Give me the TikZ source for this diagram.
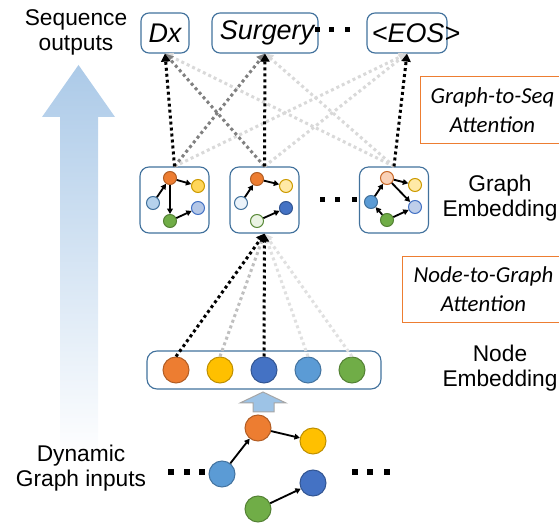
\documentclass[tikz,border=0pt]{standalone}
\usepackage{fontspec}
\setmainfont{Liberation Sans}
\newfontfamily\calibri{Carlito}
\usetikzlibrary{arrows.meta}

\definecolor{orng}{HTML}{ED7D31}
\definecolor{gold}{HTML}{FFC000}
\definecolor{dblue}{HTML}{4472C4}
\definecolor{lblue}{HTML}{5B9BD5}
\definecolor{grn}{HTML}{70AD47}
\definecolor{boxblue}{HTML}{41719C}
\definecolor{upblue}{HTML}{9DC3E6}
\definecolor{fadeblue}{RGB}{172,202,232}

\begin{document}
\begin{tikzpicture}[x=0.3mm,y=-0.3mm,
    lbl/.style={font=\fontsize{19.4}{21.3}\selectfont, align=center},
    outtxt/.style={font=\fontsize{23}{26}\selectfont\itshape},
    outbox/.style={draw=boxblue, line width=0.35mm, rounded corners=2.4mm, minimum height=12mm},
    gbox/.style={draw=boxblue, line width=0.35mm, rounded corners=2.7mm, minimum width=20.7mm, minimum height=19.8mm},
    attbox/.style={draw=orng, line width=0.3mm, align=center, minimum height=20mm,
        font=\calibri\itshape\fontsize{19.5}{24.5}\selectfont},
    gnode/.style 2 args={circle, minimum size=3.9mm, inner sep=0, line width=0.3mm, fill=#1, draw=#2},
    bnode/.style={circle, minimum size=7.8mm, inner sep=0, line width=0.3mm, fill=#1, draw=#1!75!black},
    sarrow/.style={-{Triangle[width=1.7mm,length=1.6mm]}, line width=0.55mm},
    att/.style={line width=0.9mm, dash pattern=on 0.9mm off 0.9mm, -{Triangle[width=2.7mm,length=2.4mm]}},
    sq/.style={fill=black}]
    \useasboundingbox (0,0) rectangle (559,523);

    % big fading arrow on the left
    \shade[top color=fadeblue, bottom color=white]
        (42,117) -- (78.5,65) -- (115,117) -- (98,117) -- (98,458) -- (60,458) -- (60,117) -- cycle;
    \node[lbl] (seqlbl) at (76,32) {Sequence\\outputs};
    \node[lbl] (dynlbl) at (81,468) {Dynamic\\Graph inputs};

    % sequence outputs
    \node[outbox, minimum width=14.4mm] (dx) at (165,33) {};
    \node[outbox, minimum width=31.8mm] (surg) at (265,33) {};
    \node[outbox, minimum width=24mm] (eos) at (407,33) {};
    \node[outtxt] (dxtxt) at (165,33) {Dx};
    \node[outtxt] (surgtxt) at (267,33) {Surgery};
    \node[outtxt] (eostxt) at (416,33) {<EOS>};
    \foreach \x in {317,331,347}
        \fill[sq] (\x-2.5,27.5) rectangle +(5,5);

    % graph embeddings
    \node[gbox] (g1) at (174.5,200) {};
    \node[gbox] (g2) at (264.5,200) {};
    \node[gbox] (g3) at (394,200) {};
    \foreach \x in {322,337,354}
        \fill[sq] (\x-2.5,197.5) rectangle +(5,5);
    \node[lbl] (gelbl) at (500,198) {Graph\\Embedding};

    % graph 1
    \node[gnode={orng}{orng!75!black}] (g1o) at (170,178) {};
    \node[gnode={gold!65!white}{gold!80!black}] (g1y) at (198,186) {};
    \node[gnode={lblue!45!white}{boxblue}] (g1b) at (153,203) {};
    \node[gnode={dblue!40!white}{dblue}] (g1s) at (198,208) {};
    \node[gnode={grn}{grn!75!black}] (g1g) at (170,221) {};
    \draw[sarrow] (g1b) -- (g1o);
    \draw[sarrow] (g1o) -- (g1y);
    \draw[sarrow] (g1o) -- (g1g);
    \draw[sarrow] (g1g) -- (g1s);

    % graph 2
    \node[gnode={orng}{orng!75!black}] (g2o) at (257,179) {};
    \node[gnode={gold!35!white}{gold!80!black}] (g2y) at (286,186) {};
    \node[gnode={lblue!12!white}{boxblue}] (g2b) at (241,203) {};
    \node[gnode={dblue}{dblue!75!black}] (g2s) at (286,208) {};
    \node[gnode={grn!15!white}{grn!80!black}] (g2g) at (257,221) {};
    \draw[sarrow] (g2b) -- (g2o);
    \draw[sarrow] (g2o) -- (g2y);
    \draw[sarrow] (g2g) -- (g2s);

    % graph 3
    \node[gnode={orng!35!white}{orng!85!black}] (g3o) at (387,178) {};
    \node[gnode={gold!35!white}{gold!80!black}] (g3y) at (415,185) {};
    \node[gnode={lblue}{boxblue}] (g3b) at (371,202) {};
    \node[gnode={dblue!35!white}{dblue}] (g3s) at (415,207) {};
    \node[gnode={grn}{grn!75!black}] (g3g) at (387,220) {};
    \draw[sarrow] (g3b) -- (g3o);
    \draw[sarrow] (g3o) -- (g3y);
    \draw[sarrow] (g3o) -- (g3s);
    \draw[sarrow] (g3g) -- (g3b);
    \draw[sarrow] (g3g) -- (g3s);

    % graph-to-seq attention
    \draw[att, black!15] (g1.north) -- (eos.south);
    \draw[att, black!15] (g2.north) -- (eos.south);
    \draw[att, black!15] (g3.north) -- (dx.south);
    \draw[att, black!15] (g3.north) -- (surg.south);
    \draw[att, black!50] (g1.north) -- (surg.south);
    \draw[att, black!50] (g2.north) -- (dx.south);
    \draw[att] (g1.north) -- (dx.south);
    \draw[att] (g2.north) -- (surg.south);
    \draw[att] (g3.north) -- (eos.south);
    \node[attbox, minimum width=43.5mm] (g2s_att) at (492.5,110) {Graph-to-Seq\\Attention};

    % node embedding
    \node[draw=boxblue, line width=0.35mm, rounded corners=3mm, minimum width=70.2mm, minimum height=11.4mm] (nemb) at (264,370) {};
    \node[bnode=orng] (n1) at (176,370) {};
    \node[bnode=gold] (n2) at (220,370) {};
    \node[bnode=dblue] (n3) at (264,370) {};
    \node[bnode=lblue] (n4) at (308,370) {};
    \node[bnode=grn] (n5) at (352,370) {};
    \node[lbl] (nelbl) at (500,368) {Node\\Embedding};

    % node-to-graph attention
    \draw[att, black!12] (n4.north) -- (g2.south);
    \draw[att, black!12] (n5.north) -- (g2.south);
    \draw[att, black!25] (n2.north) -- (g2.south);
    \draw[att] (n1.north) -- (g2.south);
    \draw[att] (n3.north) -- (g2.south);
    \node[attbox, minimum width=48.9mm] (n2g_att) at (483.5,289.5) {Node-to-Graph\\Attention};

    % small up arrow
    \draw[fill=upblue, draw=black!35, line width=0.3mm]
        (240,403) -- (263,392) -- (286,403) -- (274,403) -- (274,412) -- (253,412) -- (253,403) -- cycle;

    % dynamic graph input
    \node[bnode=orng] (io) at (258,428) {};
    \node[bnode=gold] (iy) at (313,441) {};
    \node[bnode=lblue] (ib) at (222,474) {};
    \node[bnode=dblue] (id) at (313,483) {};
    \node[bnode=grn] (ig) at (258,509) {};
    \draw[sarrow] (ib) -- (io);
    \draw[sarrow] (io) -- (iy);
    \draw[sarrow] (ig) -- (id);
    \foreach \x in {171,187,202,355,370,387}
        \fill[sq] (\x-3,469) rectangle +(6,6);
\end{tikzpicture}
\end{document}
